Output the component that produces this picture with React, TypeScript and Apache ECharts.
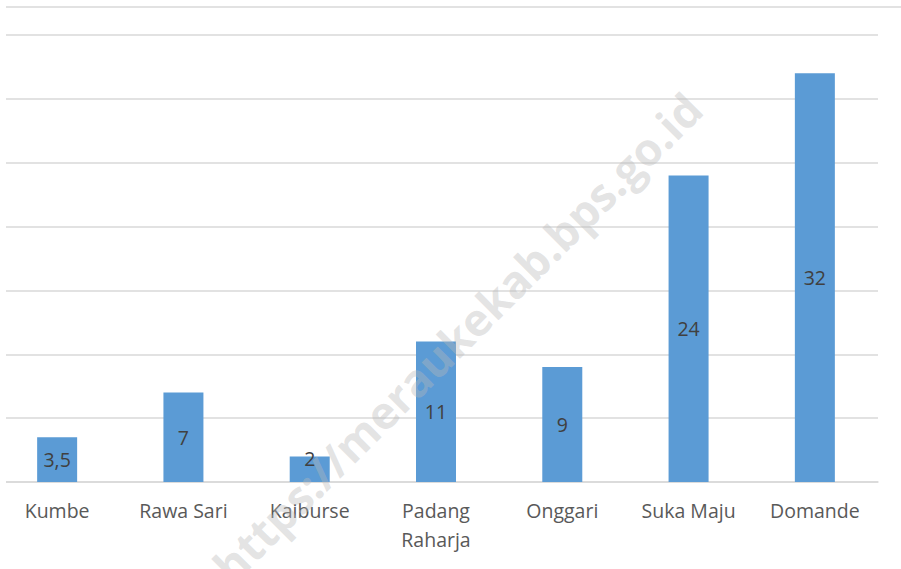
import React, { useEffect, useRef } from "react";
import * as echarts from "echarts";

const categories = ["Kumbe", "Rawa Sari", "Kaiburse", "Padang\nRaharja", "Onggari", "Suka Maju", "Domande"];
const values = [3.5, 7, 2, 11, 9, 24, 32];
const yMin = 0;
const yMax = 35;
const yInterval = 5;
const watermark = "https://meraukekab.bps.go.id";

const SHIFT = 12; // chart canvas is shifted left so the first category band can start off-page

export default function App() {
  const ref = useRef<HTMLDivElement>(null);
  useEffect(() => {
    if (!ref.current) return;
    const chart = echarts.init(ref.current, undefined, { renderer: "svg" });
    const font = "'Open Sans', 'DejaVu Sans', sans-serif";
    const seriesData = values.map((v) =>
      v < 2.5 ? { value: v, label: { offset: [0, -11] } } : v
    );
    chart.setOption({
      animation: false,
      backgroundColor: "#ffffff",
      grid: { left: 6, right: 23, top: 35, bottom: 87, containLabel: false },
      xAxis: {
        type: "category",
        data: categories,
        axisLine: { show: true, lineStyle: { color: "#d9d9d9", width: 1.5 } },
        axisTick: { show: false },
        axisLabel: {
          color: "#595959",
          fontSize: 19.5,
          fontFamily: font,
          lineHeight: 29,
          margin: 14,
          interval: 0,
        },
      },
      yAxis: {
        type: "value",
        min: yMin,
        max: yMax,
        interval: yInterval,
        axisLine: { show: false },
        axisTick: { show: false },
        axisLabel: { show: false },
        splitLine: { show: true, lineStyle: { color: "#d9d9d9", width: 1.5 } },
      },
      series: [
        {
          type: "bar",
          data: seriesData,
          barWidth: 40,
          itemStyle: { color: "#5b9bd5" },
          label: {
            show: true,
            position: "inside",
            color: "#404040",
            fontSize: 19.5,
            fontFamily: font,
            formatter: (p: any) => String(p.value).replace(".", ","),
          },
        },
      ],
      graphic: [
        {
          type: "rect",
          x: 0,
          y: 0,
          shape: { width: SHIFT + 6, height: 569 },
          style: { fill: "#ffffff" },
          z: 50,
        },
        {
          type: "line",
          shape: { x1: SHIFT + 6, y1: 7, x2: SHIFT + 901, y2: 7 },
          style: { stroke: "#d9d9d9", lineWidth: 1.5 },
          z: 50,
        },
        {
          type: "text",
          x: SHIFT + 457,
          y: 337,
          rotation: Math.PI / 4,
          z: 100,
          style: {
            text: watermark,
            fontSize: 45,
            fontWeight: "bold",
            fontFamily: font,
            fill: "rgba(185,185,185,0.4)",
            align: "center",
            verticalAlign: "middle",
          },
        },
      ],
    });
    return () => chart.dispose();
  }, []);
  return (
    <div style={{ position: "fixed", left: 0, top: 0, width: 901, height: 569, overflow: "hidden" }}>
      <div
        ref={ref}
        style={{ position: "absolute", left: -SHIFT, top: 0, width: 901 + SHIFT, height: 569 }}
      />
    </div>
  );
}
